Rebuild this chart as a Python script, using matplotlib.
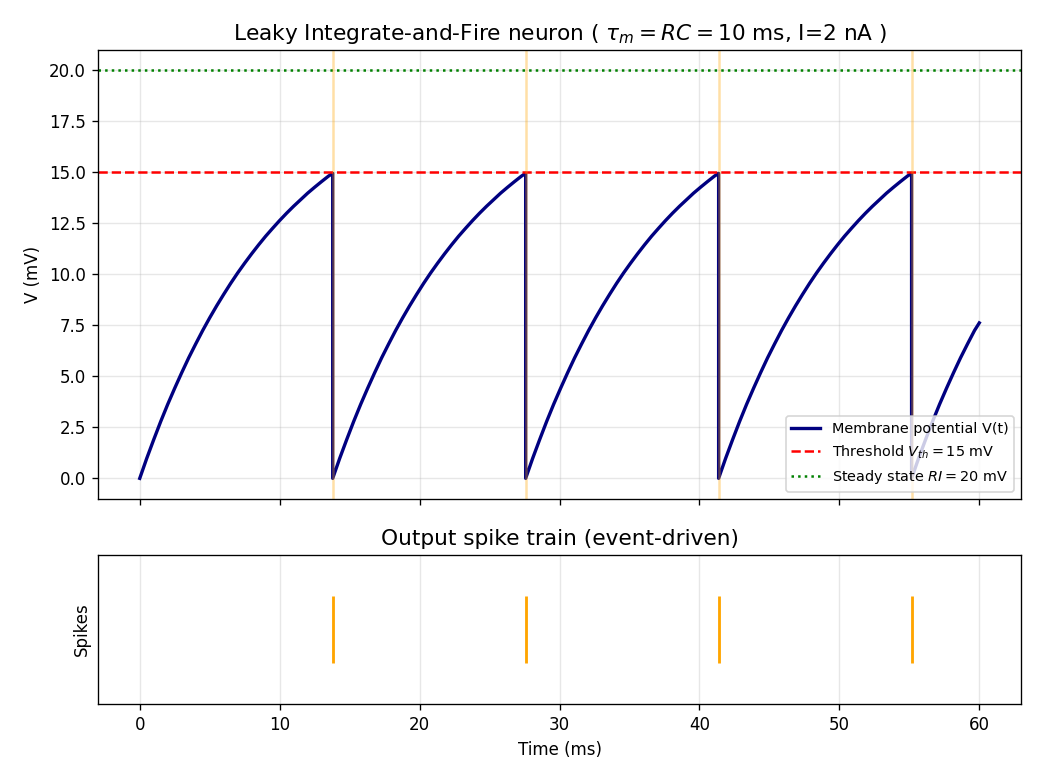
import numpy as np
import matplotlib
matplotlib.use('Agg')
import matplotlib.pyplot as plt

# one charge-up segment: time since reset (ms) -> V (mV)
seg_dt = [0, 0.5, 1, 1.5, 2, 2.5, 3, 3.5, 4, 4.5, 5, 5.5, 6, 6.5, 7, 7.5,
          8, 8.5, 9, 9.5, 10, 10.5, 11, 11.5, 12, 12.5, 13, 13.5, 13.79]
seg_v = [0, 0.98, 1.9, 2.79, 3.63, 4.42, 5.18, 5.91, 6.59, 7.25, 7.87, 8.46,
         9.02, 9.56, 10.07, 10.55, 11.01, 11.45, 11.87, 12.26, 12.64, 13.0,
         13.34, 13.66, 13.98, 14.27, 14.55, 14.82, 14.95]
onsets = [0, 13.79, 27.58, 41.37]
# last, unfinished segment after the 4th spike
last_t = [55.16, 55.66, 56.16, 56.66, 57.16, 57.66, 58.16, 58.66, 59.16, 59.66, 60.0]
last_v = [0, 0.98, 1.9, 2.79, 3.63, 4.42, 5.18, 5.91, 6.59, 7.25, 7.62]
spikes = [13.79, 27.58, 41.37, 55.16]
v_th = 15
v_ss = 20

t = []
v = []
for o in onsets:
    t += [o + d for d in seg_dt]
    v += seg_v
t += last_t
v += last_v

fig, (ax1, ax2) = plt.subplots(2, 1, figsize=(1040 / 120, 780 / 120), dpi=120, sharex=True,
                               gridspec_kw={'height_ratios': [3, 1]})
plt.subplots_adjust(left=0.094, right=0.982, top=0.936, bottom=0.097, hspace=0.187)

ax1.plot(t, v, color='navy', lw=2, label='Membrane potential V(t)')
ax1.axhline(v_th, color='red', ls='--', lw=1.5, label=r'Threshold $V_{th} = 15$ mV')
ax1.axhline(v_ss, color='green', ls=':', lw=1.5, label=r'Steady state $RI = 20$ mV')
for s in spikes:
    ax1.axvline(s, color='orange', alpha=0.35, lw=1.5)
ax1.set_ylabel('V (mV)')
ax1.set_title(r'Leaky Integrate-and-Fire neuron ( $\tau_m = RC = 10$ ms, I=2 nA )', fontsize=13)
ax1.grid(alpha=0.3)
ax1.legend(loc='lower right', fontsize=8.6)

ax2.eventplot(spikes, colors='orange', lineoffsets=0, linelength=0.9, linewidths=1.7)
ax2.set_ylim(-1, 1)
ax2.set_yticks([])
ax2.set_ylabel('Spikes')
ax2.set_xlabel('Time (ms)')
ax2.set_title('Output spike train (event-driven)', fontsize=13)
ax2.grid(alpha=0.3)
ax2.set_xlim(-3, 63)

plt.savefig('out.png', dpi=120)
